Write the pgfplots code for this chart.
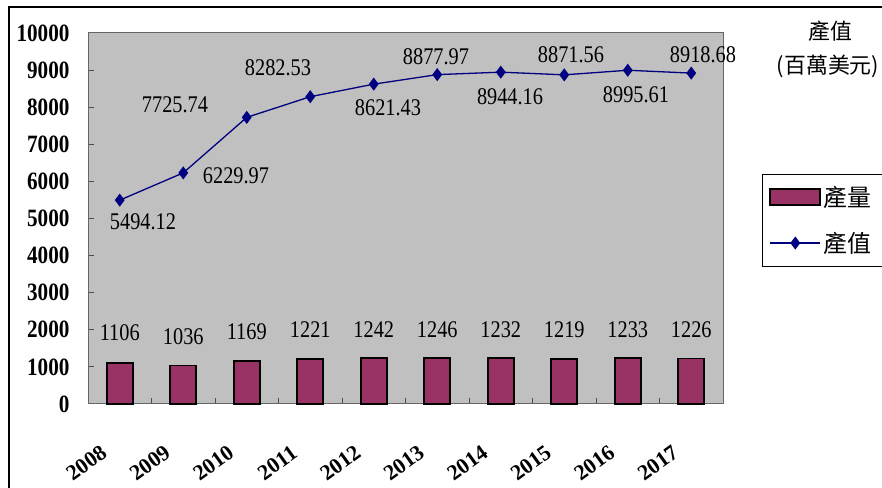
\documentclass[border=0pt]{standalone}
\usepackage{pgfplots}
\pgfplotsset{compat=1.18}
\usepackage{fontspec}
\setmainfont{Liberation Serif}
\newfontfamily\numfont[FakeStretch=0.85]{Liberation Serif}
\newfontfamily\cjk{Noto Sans CJK TC}
\definecolor{barc}{HTML}{993366}
\definecolor{linec}{HTML}{000080}
\definecolor{bg}{HTML}{C0C0C0}
\begin{document}
\begin{tikzpicture}[x=1bp,y=1bp]
\useasboundingbox (0,0) rectangle (882,488);
\draw[line width=2.5bp] (9,-5) -- (9,481) -- (890,481);
\node[font=\cjk\fontsize{22}{24}\selectfont] at (830,457) {產值};
\node[font=\cjk\fontsize{22}{24}\selectfont] at (828,422) {(百萬美元)};
\begin{axis}[
  at={(88bp,84bp)}, anchor=south west, scale only axis,
  width=635bp, height=371bp,
  xmin=-0.5, xmax=9.5, ymin=0, ymax=10000,
  scaled y ticks=false,
  axis background/.style={fill=bg},
  axis line style={draw=black!60, line width=1bp},
  ytick={0,1000,...,10000},
  yticklabels={0,1000,2000,3000,4000,5000,6000,7000,8000,9000,10000},
  ytick pos=left, xtick pos=bottom, tick align=inside,
  major tick length=6bp, minor tick length=6bp,
  xtick={0,...,9},
  xticklabels={2008,2009,2010,2011,2012,2013,2014,2015,2016,2017},
  major x tick style={draw=none},
  minor xtick={0.5,1.5,...,8.5},
  minor x tick style={draw=black!70, line width=1bp},
  y tick style={draw=black!70, line width=1bp},
  yticklabel style={font=\numfont\bfseries\fontsize{25}{25}\selectfont, xshift=-15bp},
  xticklabel style={font=\bfseries\fontsize{22}{22}\selectfont, inner sep=0pt, xshift=-20bp, yshift=-40bp, rotate=36, anchor=north east},
  legend style={at={(1.0614,0.620)}, anchor=north west, draw=black, line width=0.8bp,
    fill=white, inner xsep=7bp, inner ysep=10bp, row sep=20bp,
    font=\cjk\fontsize{24}{26}\selectfont,
    /tikz/every even column/.append style={column sep=10bp}},
  legend cell align=left,
  clip=false,
]
\addplot[ybar, bar width=26bp, bar shift=0pt, fill=barc, draw=black, line width=1.8bp,
  legend image code/.code={\draw[fill=barc, draw=black, line width=1.8bp] (0bp,-8bp) rectangle (50bp,8bp);}]
  coordinates {(0,1106) (1,1036) (2,1169) (3,1221) (4,1242) (5,1246) (6,1232) (7,1219) (8,1233) (9,1226)};
\addlegendentry{產量\rule{16bp}{0pt}}
\addplot[color=linec, line width=1.3bp, mark=diamond*, mark size=5.5bp, mark options={fill=linec},
  legend image code/.code={\draw[color=linec, line width=1.3bp, mark=diamond*, mark size=5.5bp, mark options={fill=linec}, mark repeat=2, mark phase=2] plot coordinates {(0bp,0bp) (25bp,0bp) (50bp,0bp)};}]
  coordinates {(0,5494.12) (1,6229.97) (2,7725.74) (3,8282.53) (4,8621.43) (5,8877.97) (6,8944.16) (7,8871.56) (8,8995.61) (9,8918.68)};
\addlegendentry{產值\rule{16bp}{0pt}}
\begin{scope}[every node/.style={font=\numfont\fontsize{24}{24}\selectfont, inner sep=0pt}]
\node at (axis cs:0.366,4906) {5494.12};
\node at (axis cs:1.831,6146) {6229.97};
\node at (axis cs:0.870,8059) {7725.74};
\node at (axis cs:2.492,9057) {8282.53};
\node at (axis cs:4.224,7978) {8621.43};
\node at (axis cs:4.980,9353) {8877.97};
\node at (axis cs:6.146,8275) {8944.16};
\node at (axis cs:7.106,9407) {8871.56};
\node at (axis cs:8.130,8329) {8995.61};
\node at (axis cs:9.185,9407) {8918.68};
\node at (axis cs:0,1920) {1106};
\node at (axis cs:1,1810) {1036};
\node at (axis cs:2,1950) {1169};
\node at (axis cs:3,2000) {1221};
\node at (axis cs:4,2000) {1242};
\node at (axis cs:5,2000) {1246};
\node at (axis cs:6,2000) {1232};
\node at (axis cs:7,2000) {1219};
\node at (axis cs:8,2000) {1233};
\node at (axis cs:9,2000) {1226};
\end{scope}
\end{axis}
\end{tikzpicture}
\end{document}
